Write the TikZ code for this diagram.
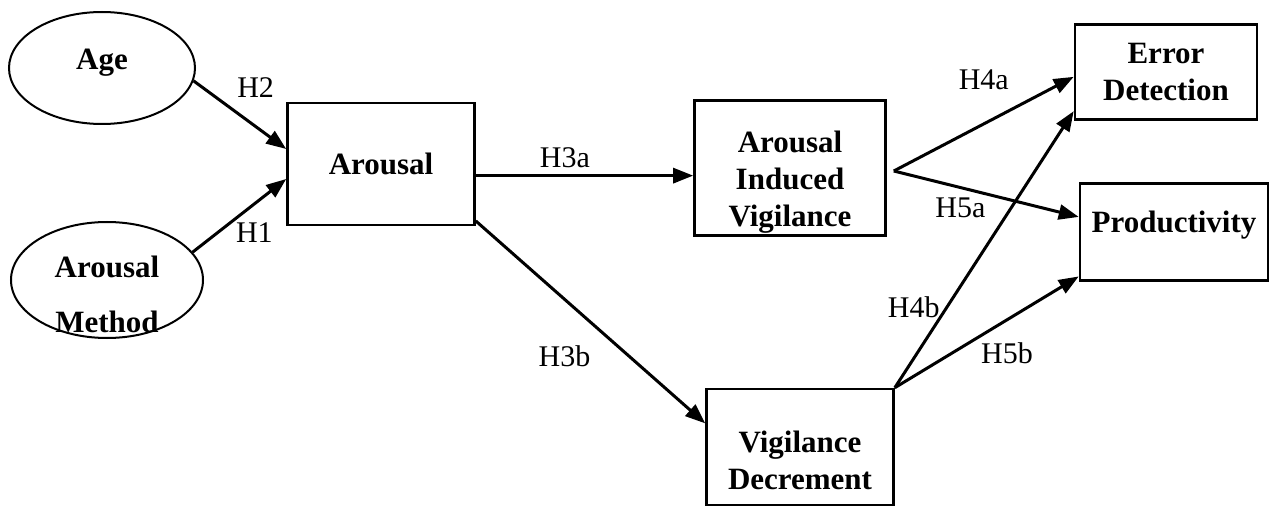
\documentclass[tikz,border=0pt]{standalone}
\usepackage{fontspec}
\setmainfont{Liberation Serif}
\usetikzlibrary{arrows.meta, shapes.geometric}

\begin{document}
\begin{tikzpicture}[x=1pt, y=-1pt, -{Triangle[length=20pt, width=15pt]}, line width=3pt,
    latent/.style={ellipse, draw, line width=2pt, inner sep=0pt, align=center,
      font=\fontsize{31}{37}\selectfont\bfseries},
    factor/.style={rectangle, draw, line width=2.6pt, inner sep=0pt, align=center,
      font=\fontsize{31}{37}\selectfont\bfseries},
    hyp/.style={inner sep=0pt, font=\fontsize{30}{36}\selectfont}]

      \useasboundingbox (0,0) rectangle (1270,508);

      % Define constructs
      \node[latent, minimum width=186pt, minimum height=112pt] (age) at (102,68) {Age\rule[-17pt]{0pt}{0pt}};
      \node[latent, minimum width=192pt, minimum height=116pt, inner sep=-15pt,
        font=\fontsize{31}{55}\selectfont\bfseries] (method) at (107,280) {\rule{0pt}{51pt}Arousal\\Method};
      \node[factor, minimum width=187pt, minimum height=122pt] (arousal) at (381,164) {Arousal};
      \node[factor, minimum width=191pt, minimum height=135pt] (aiv) at (790,168) {\rule{0pt}{49pt}Arousal\\Induced\\Vigilance};
      \node[factor, minimum width=187pt, minimum height=116pt] (vigdec) at (800,447) {\rule{0pt}{49pt}Vigilance\\Decrement};
      \node[factor, minimum width=182pt, minimum height=95pt] (error) at (1166,72) {Error\\Detection};
      \node[factor, minimum width=188pt, minimum height=97pt] (prod) at (1174,232) {Productivity\rule[-21pt]{0pt}{0pt}};
      \coordinate (split) at ([xshift=7pt, yshift=-3pt]aiv.east);

      % Define hypotheses
      \path (age.-8) edge node[hyp, pos=0.67, yshift=39pt] {H2} (arousal.171)
            (method.18) edge node[hyp, pos=0.66, yshift=-29pt] {H1} (arousal.189)
            (arousal.-7) edge node[hyp, pos=0.41, yshift=18pt] {H3a} (arousal.-7 -| aiv.west)
            (arousal.-31) edge node[hyp, pos=0.67, xshift=-65pt] {H3b} (vigdec.166)
            (split) edge node[hyp, pos=0.5, yshift=44pt] {H4a} (error.183)
            (split) edge node[hyp, pos=0.36, yshift=-20pt] {H5a} (prod.171)
            (vigdec.north east) edge node[hyp, pos=0.29, xshift=-33pt] {H4b} (error.203)
            (vigdec.north east) edge node[hyp, pos=0.61, yshift=-33pt] {H5b} (prod.205);

    \end{tikzpicture}
\end{document}
